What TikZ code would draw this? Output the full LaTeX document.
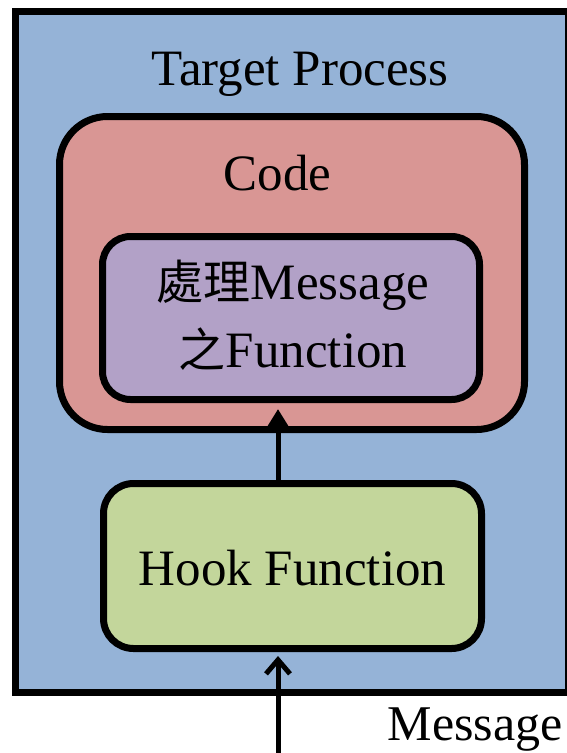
\documentclass[tikz,border=0pt]{standalone}
\usepackage{fontspec}
\setmainfont{Liberation Serif}
\newfontfamily\cjk{Noto Sans CJK TC}
\usetikzlibrary{arrows.meta,shadows}
\definecolor{procblue}{RGB}{149,179,215}
\definecolor{codered}{RGB}{217,150,148}
\definecolor{funcpurple}{RGB}{178,161,199}
\definecolor{hookgreen}{RGB}{195,214,155}
\tikzset{
  box/.style={draw=black, rectangle, inner sep=0pt,
    drop shadow={shadow xshift=1.2pt, shadow yshift=-1.8pt, opacity=0.3}},
  lbl/.style={anchor=base, inner sep=0pt, font=\fontsize{51}{60}\selectfont},
  flow/.style={draw=black, line width=5pt},
}
\begin{document}
\begin{tikzpicture}[x=1pt, y=-1pt]
\useasboundingbox (0,0) rectangle (566,753);
% outer process box
\node[box, fill=procblue, line width=7.5pt, minimum width=553.5pt, minimum height=681pt] (proc) at (292.25,352) {};
\node[lbl] (proclbl) at (300,85) {Target Process};
% code box
\node[box, fill=codered, line width=7pt, rounded corners=48pt, minimum width=465pt, minimum height=313pt] (code) at (292,273) {};
\node[lbl] (codelbl) at (277.5,190) {Code};
% message handler function box
\node[box, fill=funcpurple, line width=7pt, rounded corners=28pt, minimum width=377pt, minimum height=163pt] (func) at (291,318) {};
\node[lbl] (funcl1) at (293,299) {{\fontsize{47}{60}\cjk 處理}Message};
\node[lbl] (funcl2) at (293,367) {{\fontsize{47}{60}\cjk 之}Function};
% hook box
\node[box, fill=hookgreen, line width=7pt, rounded corners=30pt, minimum width=378pt, minimum height=165pt] (hook) at (292.5,566) {};
\node[lbl] (hooklbl) at (292.5,585) {Hook Function};
% arrows
\coordinate (ax) at (278,0);
\coordinate (msgin) at (278,760);
\draw[flow, -{Triangle[length=20pt,width=23pt]}, shorten >=6pt] (hook.north -| ax) -- (func.south -| ax);
\draw[flow, -{Straight Barb[length=14pt,width=24pt]}, shorten >=4pt] (msgin) -- (hook.south -| ax);
\node[lbl, anchor=base east, font=\fontsize{50}{60}\selectfont] (msglbl) at (563,740) {Message};
\end{tikzpicture}
\end{document}
